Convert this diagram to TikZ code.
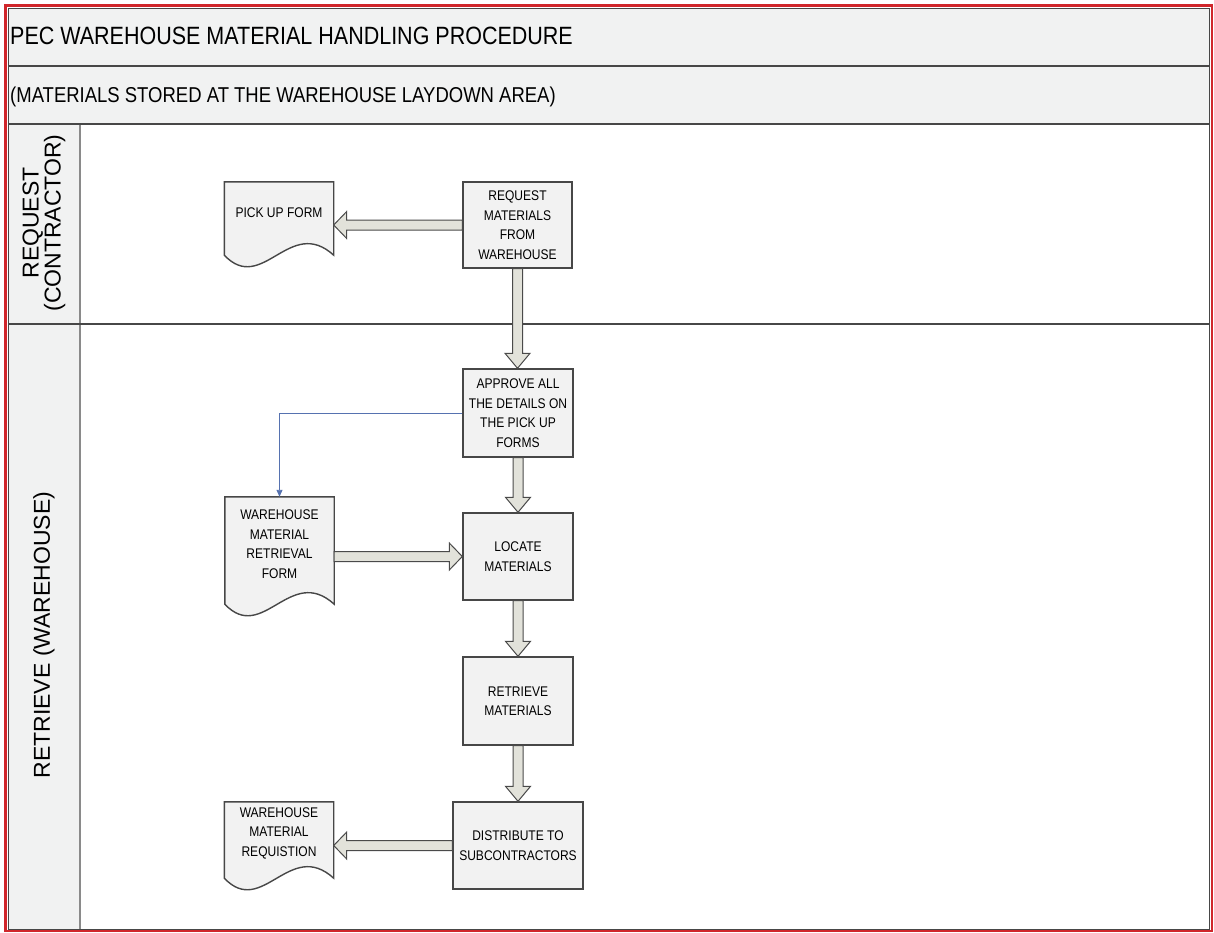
\documentclass[tikz,border=0pt]{standalone}
\usepackage{fontspec}
\setmainfont{Liberation Sans}[FakeStretch=0.86]
\newfontfamily\lanefamily{Liberation Sans}
\usetikzlibrary{calc,arrows.meta,backgrounds}

\definecolor{framered}{HTML}{D0262B}
\definecolor{framegray}{HTML}{474747}
\definecolor{colgray}{HTML}{8A8A8A}
\definecolor{bandgray}{HTML}{F1F2F2}
\definecolor{boxfill}{HTML}{F2F2F2}
\definecolor{arrowfill}{HTML}{E2E2DA}
\definecolor{arrowedge}{HTML}{4A4A4A}
\definecolor{linkblue}{HTML}{5672B0}

\newcommand\boxfont{\fontsize{14}{19.5}\selectfont}
\newcommand\lanefont{\lanefamily\fontsize{23}{22}\selectfont}

% document symbol: straight top and sides, wavy bottom edge
\newcommand\docoutline[2]{%
  \begin{scope}[on background layer]
    \draw[docbox] (#1.north west) -- (#1.north east) -- ($(#1.south east)+(0,#2)$)
      .. controls ($(#1.south east)+(-44,#2-40)$) and ($(#1.south west)+(38,#2+40)$)
      .. ($(#1.south west)+(0,#2)$) -- cycle;
  \end{scope}}

% hollow block arrows (shaft 10pt, head 25pt wide, 14pt long)
\newcommand\fatdown[2]{%
  \draw[fatarrow] let \p1=(#1), \p2=(#2) in
    (\x1-5pt,\y1) -- (\x1-5pt,\y2+15pt) -- (\x1-12.5pt,\y2+15pt) -- (\x1,\y2)
    -- (\x1+12.5pt,\y2+15pt) -- (\x1+5pt,\y2+15pt) -- (\x1+5pt,\y1) -- cycle;}
\newcommand\fatleft[2]{%
  \draw[fatarrow] let \p1=(#1), \p2=(#2) in
    (\x1,\y1+5pt) -- (\x2+13pt,\y1+5pt) -- (\x2+13pt,\y1+13.5pt) -- (\x2,\y1)
    -- (\x2+13pt,\y1-13.5pt) -- (\x2+13pt,\y1-5pt) -- (\x1,\y1-5pt) -- cycle;}
\newcommand\fatright[2]{%
  \draw[fatarrow] let \p1=(#1), \p2=(#2) in
    (\x1,\y1+5pt) -- (\x2-13pt,\y1+5pt) -- (\x2-13pt,\y1+13.5pt) -- (\x2,\y1)
    -- (\x2-13pt,\y1-13.5pt) -- (\x2-13pt,\y1-5pt) -- (\x1,\y1-5pt) -- cycle;}

\begin{document}
\begin{tikzpicture}[x=1pt,y=-1pt,
  box/.style={draw=framegray, line width=1.4pt, fill=boxfill, minimum width=110pt,
    minimum height=87pt, align=center, inner sep=2pt, font=\boxfont},
  docnode/.style={minimum width=109pt, align=center, inner sep=0pt, font=\boxfont},
  docbox/.style={draw=framegray, line width=1.4pt, fill=boxfill},
  fatarrow/.style={draw=arrowedge, line width=1pt, fill=arrowfill, line join=miter},
  link/.style={draw=linkblue, line width=0.9pt, -{Triangle[length=7pt,width=6pt]}},
  lane/.style={draw=framegray, line width=1.6pt},
  lanecol/.style={draw=colgray, line width=1.2pt},
]
\useasboundingbox (0,0) rectangle (1214,932);

% header bands and lane label column
\fill[bandgray] (8,8) rectangle (1210,124);
\fill[bandgray] (8,124) rectangle (80,930);
\draw[lanecol] (80,124) -- (80,930);
\draw[lane] (8,66) -- (1210,66);
\draw[lane] (8,124) -- (1210,124);
\draw[lane] (8,324) -- (1210,324);
\draw[lane] (8.5,8.5) rectangle (1209.5,929.5);
\draw[framered, line width=2.2pt] (5.5,5.5) rectangle (1212,931);

\node[anchor=base west, inner sep=0pt, font=\fontsize{25}{30}\selectfont] (title)
  at (10,44.5) {PEC WAREHOUSE MATERIAL HANDLING PROCEDURE};
\node[anchor=base west, inner sep=0pt, font=\fontsize{21.5}{25}\selectfont] (subtitle)
  at (10,102) {(MATERIALS STORED AT THE WAREHOUSE LAYDOWN AREA)};

\node[rotate=90, align=center, font=\lanefont, inner sep=0pt] (lanereq)
  at (44,223) {REQUEST\\(CONTRACTOR)};
\node[rotate=90, align=center, font=\lanefont, inner sep=0pt] (laneret)
  at (44,635) {RETRIEVE (WAREHOUSE)};

% process steps
\node[box, minimum height=86pt, minimum width=109pt] (req) at (517.5,225)
  {REQUEST\\MATERIALS\\FROM\\WAREHOUSE};
\node[box, minimum height=88pt] (appr) at (518,413)
  {APPROVE ALL\\THE DETAILS ON\\THE PICK UP\\FORMS};
\node[box] (loc) at (518,556.5) {LOCATE\\MATERIALS};
\node[box, minimum height=88pt] (ret) at (518,701) {RETRIEVE\\MATERIALS};
\node[box, minimum width=130pt] (dist) at (518,845.5) {DISTRIBUTE TO\\SUBCONTRACTORS};

% documents
\node[docnode, minimum height=62pt] (pick) at (279,213) {PICK UP FORM};
\docoutline{pick}{11}
\node[docnode, minimum height=94pt] (wmrf) at (279.5,544)
  {WAREHOUSE\\MATERIAL\\RETRIEVAL\\FORM};
\docoutline{wmrf}{13}
\node[docnode, minimum height=62pt] (wmr) at (279,833)
  {WAREHOUSE\\MATERIAL\\REQUISTION};
\docoutline{wmr}{14}

% flow
\fatleft{req.west}{req.west -| pick.east}
\fatdown{req.south}{appr.north}
\fatdown{appr.south}{loc.north}
\fatright{wmrf.east |- loc.west}{loc.west}
\fatdown{loc.south}{ret.north}
\fatdown{ret.south}{dist.north}
\fatleft{dist.west}{dist.west -| wmr.east}
\draw[link] (appr.west) -| (wmrf.north);
\end{tikzpicture}
\end{document}
